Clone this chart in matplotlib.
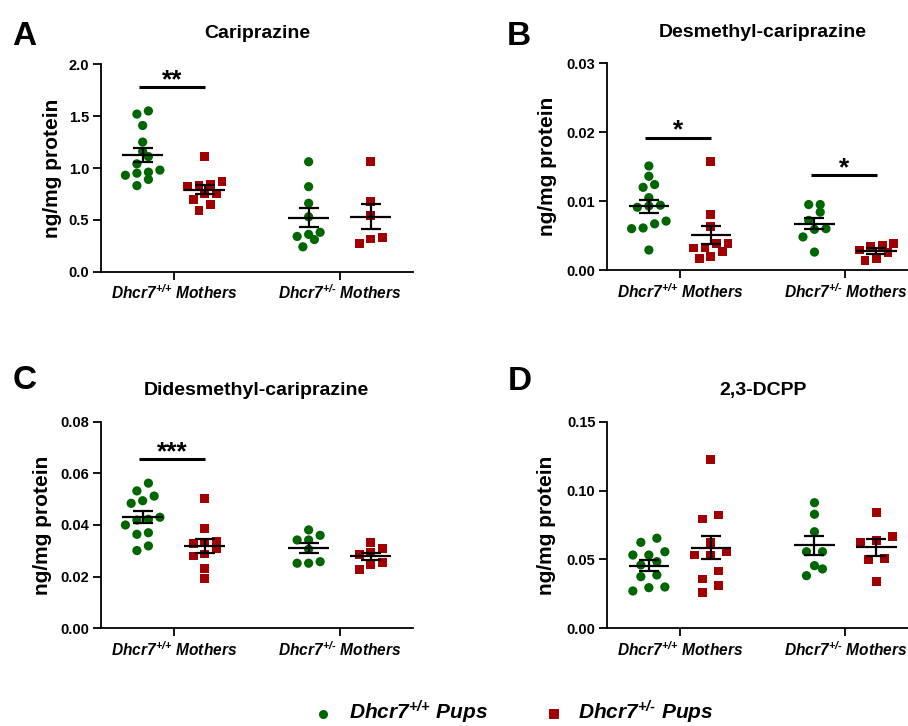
import numpy as np
import matplotlib
matplotlib.use('Agg')
import matplotlib.pyplot as plt
from matplotlib.lines import Line2D

plt.rcParams['font.family'] = 'Liberation Sans'
plt.rcParams['mathtext.fontset'] = 'custom'
plt.rcParams['mathtext.rm'] = 'Liberation Sans:bold:italic'
plt.rcParams['mathtext.it'] = 'Liberation Sans:bold:italic'
plt.rcParams['mathtext.bf'] = 'Liberation Sans:bold:italic'

GREEN = '#006600'
RED = '#a00000'

#---------------- data (ng/mg protein) ----------------
mothers = ['Dhcr7$^{{+}/{+}}$ Mothers', 'Dhcr7$^{{+}/\u2010}$ Mothers']
pups = ['Dhcr7$^{{+}/{+}}$ Pups', 'Dhcr7$^{{+}/\u2010}$ Pups']
titles = ['Cariprazine', 'Desmethyl-cariprazine', 'Didesmethyl-cariprazine', '2,3-DCPP']
letters = ['A', 'B', 'C', 'D']

# A - cariprazine
a_wtmom_wtpup = [1.52, 1.55, 1.41, 1.25, 1.16, 1.11, 1.04, 0.93, 0.96, 0.98, 0.95, 0.89, 0.83]
a_wtmom_hetpup = [1.11, 0.84, 0.87, 0.82, 0.83, 0.75, 0.70, 0.75, 0.65, 0.59]
a_hetmom_wtpup = [1.06, 0.82, 0.66, 0.53, 0.34, 0.38, 0.31, 0.36, 0.24]
a_hetmom_hetpup = [1.06, 0.675, 0.54, 0.27, 0.33, 0.315]
# B - desmethyl-cariprazine
b_wtmom_wtpup = [0.0151, 0.0136, 0.0124, 0.0120, 0.0105, 0.0093, 0.0091, 0.0094, 0.0071, 0.0067, 0.0061, 0.0060, 0.0029]
b_wtmom_hetpup = [0.0157, 0.0080, 0.0063, 0.0039, 0.0032, 0.0017, 0.0032, 0.0020, 0.0039, 0.0027]
b_hetmom_wtpup = [0.0095, 0.0095, 0.0084, 0.0072, 0.0060, 0.0059, 0.0048, 0.0026]
b_hetmom_hetpup = [0.0029, 0.0014, 0.0036, 0.0034, 0.0016, 0.0039, 0.0025]
# C - didesmethyl-cariprazine
c_wtmom_wtpup = [0.0562, 0.0532, 0.0512, 0.0494, 0.0484, 0.0430, 0.0422, 0.0419, 0.0400, 0.0364, 0.0370, 0.0319, 0.0301]
c_wtmom_hetpup = [0.0503, 0.0386, 0.0308, 0.0332, 0.0335, 0.0329, 0.0280, 0.0288, 0.0231, 0.0194]
c_hetmom_wtpup = [0.0342, 0.0360, 0.0381, 0.0342, 0.0306, 0.0252, 0.0258, 0.0252]
c_hetmom_hetpup = [0.0293, 0.0308, 0.0332, 0.0287, 0.0254, 0.0245, 0.0229]
# D - 2,3-DCPP
d_wtmom_wtpup = [0.0654, 0.0624, 0.0532, 0.0532, 0.0556, 0.0484, 0.0460, 0.0387, 0.0375, 0.0271, 0.0300, 0.0295]
d_wtmom_hetpup = [0.1224, 0.0823, 0.0794, 0.0624, 0.0532, 0.0532, 0.0556, 0.0416, 0.0358, 0.0309, 0.0259]
d_hetmom_wtpup = [0.0912, 0.0828, 0.0701, 0.0556, 0.0556, 0.0455, 0.0431, 0.0382]
d_hetmom_hetpup = [0.0842, 0.0639, 0.0665, 0.0624, 0.0508, 0.0501, 0.0338]

panel_data = [
    [[a_wtmom_wtpup, a_wtmom_hetpup], [a_hetmom_wtpup, a_hetmom_hetpup]],
    [[b_wtmom_wtpup, b_wtmom_hetpup], [b_hetmom_wtpup, b_hetmom_hetpup]],
    [[c_wtmom_wtpup, c_wtmom_hetpup], [c_hetmom_wtpup, c_hetmom_hetpup]],
    [[d_wtmom_wtpup, d_wtmom_hetpup], [d_hetmom_wtpup, d_hetmom_hetpup]],
]
ymax = [2.0, 0.03, 0.08, 0.15]
ystep = [0.5, 0.01, 0.02, 0.05]
yfmt = ['%.1f', '%.2f', '%.2f', '%.2f']
# significance: (mother group, bar height, stars)
sig = [[(0, 1.78, '**')], [(0, 0.0192, '*'), (1, 0.0138, '*')], [(0, 0.0654, '***')], []]

#---------------- layout ----------------
W, H = 908, 726
fig = plt.figure(figsize=(W / 100, H / 100), dpi=100)
ax_pos = [[101, 64.3, 311.7, 207.4], [607.3, 63.3, 311, 206.7],
          [101, 421.7, 311.7, 206.6], [607.3, 421.7, 311, 206.6]]
ylab_x = [-0.126, -0.161, -0.158, -0.166]
title_base = [38.3, 36.7, 395, 395]
letter_pos = [(11.7, 45), (507, 45), (12.7, 389.3), (507.3, 390)]
col_step = [11.5, 11.5, 11.5, 16]
off = 0.187


def swarm(ax, center, vals, diam, step):
    pts = ax.transData.transform([(center, v) for v in vals])
    order = np.argsort(pts[:, 1])
    rows, row = [], []
    for i in order:
        if row and pts[i, 1] - pts[row[0], 1] > diam:
            rows.append(row)
            row = []
        row.append(i)
    rows.append(row)
    xs = pts[:, 0].copy()
    for r in rows:
        n = len(r)
        offs = (np.arange(n) - (n - 1) / 2) * step
        for k, i in enumerate(sorted(r, key=lambda j: pts[j, 1])):
            xs[i] = pts[i, 0] + offs[k]
    back = ax.transData.inverted().transform(np.column_stack([xs, pts[:, 1]]))
    return back[:, 0]


for p in range(4):
    l, t, w, h = ax_pos[p]
    ax = fig.add_axes([l / W, 1 - (t + h) / H, w / W, h / H])
    ax.set_xlim(-0.438, 1.44)
    ax.set_ylim(0, ymax[p])
    for sp in ['top', 'right']:
        ax.spines[sp].set_visible(False)
    for sp in ['left', 'bottom']:
        ax.spines[sp].set_linewidth(1.3)
    ax.set_yticks(np.arange(0, ymax[p] + ystep[p] / 2, ystep[p]))
    ax.set_yticklabels([yfmt[p] % v for v in ax.get_yticks()], fontsize=10.5, fontweight='bold')
    ax.set_xticks([0, 1])
    ax.set_xticklabels(mothers, fontsize=11.2, fontweight='bold', fontstyle='italic')
    ax.tick_params(length=5.5, width=1.3, pad=3)
    ax.set_ylabel('ng/mg protein', fontsize=15, fontweight='bold')
    ax.yaxis.set_label_coords(ylab_x[p], 0.5)

    for g in range(2):
        for k, (col, mk) in enumerate([(GREEN, 'o'), (RED, 's')]):
            vals = np.array(panel_data[p][g][k])
            cx = g + (-off if k == 0 else off)
            xs = swarm(ax, cx, vals, 8.5, col_step[p])
            ax.scatter(xs, vals, s=44 if mk == 'o' else 40, marker=mk, color=col,
                       edgecolors='none', zorder=2)
            m = vals.mean()
            sem = vals.std(ddof=1) / np.sqrt(len(vals))
            ax.hlines(m, cx - 0.122, cx + 0.122, color='black', lw=1.6, zorder=3)
            ax.errorbar(cx, m, yerr=sem, fmt='none', ecolor='black', elinewidth=1.6,
                        capsize=7, capthick=1.6, zorder=3)

    for g, yb, stars in sig[p]:
        ax.plot([g - 0.21, g + 0.19], [yb, yb], color='black', lw=2.2, solid_capstyle='butt')
        ax.text(g - 0.01, yb, stars, ha='center', va='baseline', fontsize=19, fontweight='bold')

    fig.text((l + w / 2) / W, 1 - title_base[p] / H, titles[p], ha='center', va='baseline',
             fontsize=14, fontweight='bold')
    lx, ly = letter_pos[p]
    fig.text(lx / W, 1 - ly / H, letters[p], ha='left', va='baseline', fontsize=24, fontweight='bold')

# legend
leg_items = [(323.3, GREEN, 'o', 349.3), (554, RED, 's', 578.3)]
for (mx, col, mk, tx), lab in zip(leg_items, pups):
    fig.add_artist(Line2D([mx / W], [1 - 714.3 / H], marker=mk, color=col, markersize=6.5,
                          markeredgewidth=0, linestyle='none', transform=fig.transFigure))
    fig.text(tx / W, 1 - 720 / H, lab, ha='left', va='baseline', fontsize=15,
             fontweight='bold', fontstyle='italic')

fig.savefig('out.png', dpi=100)
